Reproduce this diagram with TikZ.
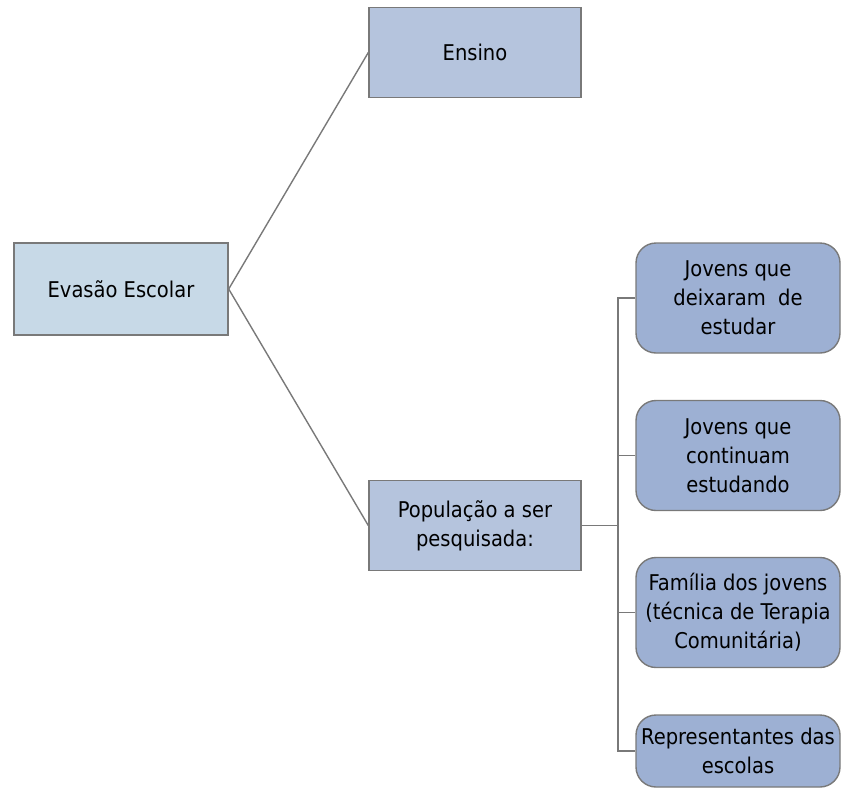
\documentclass[tikz,border=0pt]{standalone}
\usepackage{fontspec}
\setmainfont{DejaVu Sans Condensed}
\begin{document}
\begin{tikzpicture}[x=1pt,y=-1pt,
  every node/.style={font=\fontsize{21.7}{29}\selectfont, align=center, text=black, inner sep=0pt},
  sqbox/.style={draw=gray!95!black, line width=1.4pt, minimum width=212pt, minimum height=90pt},
  rbox/.style={draw=gray!95!black, line width=1.4pt, rounded corners=20pt, minimum width=204pt, minimum height=110pt},
  conn/.style={draw=gray!95!black, line width=1.4pt}]
\useasboundingbox (0,0) rectangle (841,788);
\definecolor{rootc}{HTML}{C7D9E7}
\definecolor{midc}{HTML}{B5C4DD}
\definecolor{leafc}{HTML}{9DB0D3}
\node[sqbox, fill=rootc, minimum width=214pt, minimum height=92pt] (root) at (121,289) {Evasão Escolar};
\node[sqbox, fill=midc] (ens) at (475,52.5) {Ensino};
\node[sqbox, fill=midc] (pop) at (475,525.5) {População a ser\\pesquisada:};
\node[rbox, fill=leafc] (c1) at (738,298) {Jovens que\\deixaram\ \ de\\estudar};
\node[rbox, fill=leafc] (c2) at (738,455.5) {Jovens que\\continuam\\estudando};
\node[rbox, fill=leafc] (c3) at (738,612.5) {Família dos jovens\\(técnica de Terapia\\Comunitária)};
\node[rbox, fill=leafc, minimum height=72pt] (c4) at (738,751) {Representantes das\\escolas};
\coordinate (bus) at (618,525.5);
\draw[conn] (root.east) -- (ens.west);
\draw[conn] (root.east) -- (pop.west);
\draw[conn] (pop.east) -- (bus);
\draw[conn] (c1.west) -| (bus) |- (c4.west);
\draw[conn] (c2.west) -- (c2.west -| bus);
\draw[conn] (c3.west) -- (c3.west -| bus);
\end{tikzpicture}
\end{document}
